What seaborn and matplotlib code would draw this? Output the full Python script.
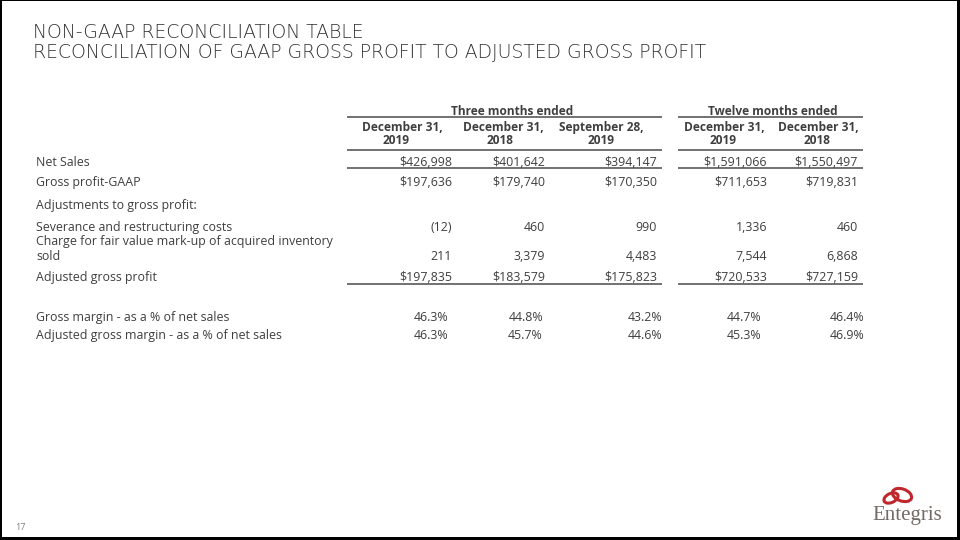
import matplotlib
matplotlib.use("Agg")
import matplotlib.pyplot as plt
from matplotlib.patches import Ellipse, Rectangle
import seaborn as sns

# ---------------- data ----------------
title_lines = ["NON-GAAP RECONCILIATION TABLE",
               "RECONCILIATION OF GAAP GROSS PROFIT TO ADJUSTED GROSS PROFIT"]
group_labels = ["Three months ended", "Twelve months ended"]
col_month = ["December 31,", "December 31,", "September 28,", "December 31,", "December 31,"]
col_year = ["2019", "2018", "2019", "2019", "2018"]

row_labels = ["Net Sales",
              "Gross profit-GAAP",
              "Adjustments to gross profit:",
              "Severance and restructuring costs",
              "Charge for fair value mark-up of acquired inventory\nsold",
              "Adjusted gross profit",
              "Gross margin - as a % of net sales",
              "Adjusted gross margin - as a % of net sales"]

net_sales = [426998, 401642, 394147, 1591066, 1550497]
gross_profit_gaap = [197636, 179740, 170350, 711653, 719831]
severance = [-12, 460, 990, 1336, 460]
fair_value_charge = [211, 3379, 4483, 7544, 6868]
adjusted_gross_profit = [197835, 183579, 175823, 720533, 727159]
gross_margin_pct = [46.3, 44.8, 43.2, 44.7, 46.4]
adj_gross_margin_pct = [46.3, 45.7, 44.6, 45.3, 46.9]

page_number = "17"
logo_text = "Entegris"

# ---------------- helpers ----------------
def money(v):
    return "${:,}".format(v)

def num(v):
    return "({:,})".format(-v) if v < 0 else "{:,}".format(v)

def pct(v):
    return "{:.1f}%".format(v)

# ---------------- style ----------------
sns.set_theme(style="white")
plt.rcParams["font.family"] = ["Open Sans", "DejaVu Sans"]

TXT = "#3f3f3f"
LINE = "#4a4a4a"
BODY = 8.9
HEAD = 8.6

fig = plt.figure(figsize=(9.6, 5.4), dpi=100)
ax = fig.add_axes([0, 0, 1, 1])
ax.set_xlim(0, 960)
ax.set_ylim(540, 0)
ax.axis("off")

def t(x, y, s, ha="left", size=BODY, weight="normal", color=TXT, **kw):
    ax.text(x, y, s, fontsize=size, fontweight=weight, color=color, ha=ha,
            va="baseline", **kw)

# slide frame
for (x, y, w, h) in [(0, 0, 2, 540), (0, 0, 960, 1), (957, 0, 3, 540), (0, 537, 960, 3)]:
    ax.add_patch(Rectangle((x, y), w, h, color="black", lw=0))

# title
for yb, line in zip([38, 57.5], title_lines):
    t(33, yb, line, size=13.6, color="#333333", family=["DejaVu Sans"], weight="light")

# header
blocks = [(347, 662), (678, 863)]
group_centers = [512, 773]
for (x0, x1), gc, g in zip(blocks, group_centers, group_labels):
    t(gc, 115, g, ha="center", weight="bold", size=HEAD)
    for yl in (116.5, 150):
        ax.plot([x0, x1], [yl, yl], color=LINE, lw=1.1, solid_capstyle="butt")

hdr_c1 = [402, 503, 601, 724, 818]
hdr_c2 = [396, 500, 601, 723, 817]
for c1, c2, m, yr in zip(hdr_c1, hdr_c2, col_month, col_year):
    t(c1, 131, m, ha="center", weight="bold", size=HEAD)
    t(c2, 144, yr, ha="center", weight="bold", size=HEAD)

# body
val_right = [452, 545, 657, 767, 858]
pct_right = [448, 543, 662, 761, 864]
label_x = 36
D = 4.4  # centre -> baseline

rows = [
    (row_labels[0], 162, [money(v) for v in net_sales], val_right),
    (row_labels[1], 182, [money(v) for v in gross_profit_gaap], val_right),
    (row_labels[2], 205, None, None),
    (row_labels[3], 227, [num(v) for v in severance], val_right),
    (row_labels[5], 277, [money(v) for v in adjusted_gross_profit], val_right),
    (row_labels[6], 317, [pct(v) for v in gross_margin_pct], pct_right),
    (row_labels[7], 335, [pct(v) for v in adj_gross_margin_pct], pct_right),
]
for lab, y, vals, rights in rows:
    t(label_x, y + D, lab)
    if vals:
        for r, v in zip(rights, vals):
            t(r, y + D, v, ha="right")

# two-line row
l1, l2 = row_labels[4].split("\n")
t(label_x, 241 + D, l1)
t(label_x, 256 + D, l2)
for r, v in zip(val_right, fair_value_charge):
    t(r, 256 + D, num(v), ha="right")

# rules under rows
for yl in (168, 283.5):
    for x0, x1 in blocks:
        ax.plot([x0, x1], [yl, yl], color=LINE, lw=1.1, solid_capstyle="butt")

# page number
t(15, 530, page_number, size=6.5, color="#808080")

# logo
red = "#c0272d"
ax.add_patch(Ellipse((891, 498), 15, 9, angle=-25, fill=False, ec=red, lw=2.2))
ax.add_patch(Ellipse((902, 495), 20, 12, angle=20, fill=False, ec=red, lw=2.2))
t(907, 520, logo_text, ha="center", size=15, color="#726b66",
  family=["Liberation Serif", "DejaVu Serif"])

fig.savefig("out.png", dpi=100)
